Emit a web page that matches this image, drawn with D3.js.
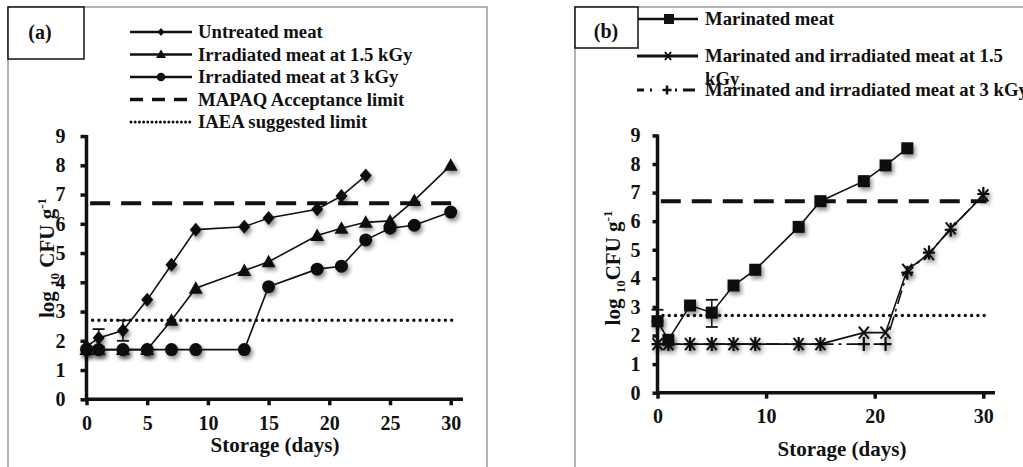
<!DOCTYPE html>
<html><head><meta charset="utf-8">
<script src="https://cdn.jsdelivr.net/npm/d3@7"></script>
<style>body{margin:0;background:#fff}svg{display:block}text{font-family:"Liberation Serif","Times New Roman",serif;font-weight:bold;fill:#111}</style>
</head><body><svg id="c" width="1023" height="467"></svg>
<script>
// ---- data (a) ----
const daysA = [0,1,3,5,7,9,13,15,19,21,23,25,27,30];
const untreated = [1.8,2.1,2.35,3.4,4.6,5.8,5.9,6.2,6.5,6.95,7.65,null,null,null];
const irr15 = [1.7,1.7,1.7,1.7,2.7,3.8,4.4,4.7,5.6,5.85,6.05,6.1,6.8,8.0];
const irr3 = [1.7,1.7,1.7,1.7,1.7,1.7,1.7,3.85,4.45,4.55,5.45,5.85,5.95,6.4];
const errA = [{day:1,lo:1.8,hi:2.4},{day:3,lo:2.0,hi:2.7}];
const legendA = ["Untreated meat","Irradiated meat at 1.5 kGy","Irradiated meat at 3 kGy","MAPAQ Acceptance limit","IAEA suggested limit"];
// ---- data (b) ----
const daysB = [0,1,3,5,7,9,13,15,19,21,23,25,27,30];
const marinated = [2.5,1.85,3.05,2.8,3.75,4.3,5.8,6.7,7.4,7.95,8.55,null,null,null];
const marIrr15 = [1.7,1.7,1.7,1.7,1.7,1.7,1.7,1.7,2.1,2.1,4.3,4.85,5.75,6.9];
const marIrr3 = [1.7,1.7,1.7,1.7,1.7,1.7,1.7,1.7,1.7,1.7,4.2,4.9,5.7,6.95];
const errB = [{day:0,lo:2.5,hi:2.9},{day:5,lo:2.3,hi:3.25}];
const legendB = ["Marinated meat","Marinated and irradiated meat at 1.5","Marinated and irradiated meat at 3 kGy"];
// limits
const mapaq = 6.7, iaea = 2.7;
const yTicks = [0,1,2,3,4,5,6,7,8,9];
const xTicksA = [0,5,10,15,20,25,30];
const xTicksB = [0,10,20,30];

const FS = 20, LFS = 18.7;
const svg = d3.select("#c");
const defs = svg.append("defs");
const f = defs.append("filter").attr("id","sh").attr("x","-50%").attr("y","-50%").attr("width","200%").attr("height","200%");
f.append("feDropShadow").attr("dx",2).attr("dy",3).attr("stdDeviation",2).attr("flood-color","#000").attr("flood-opacity",0.45);

function drawMarker(g, kind, x, y, shadow){
  const m = g.append("g").attr("transform",`translate(${x},${y})`);
  if(shadow) m.attr("filter","url(#sh)");
  if(kind==="diamond") m.append("path").attr("d","M0,-7L6,0L0,7L-6,0Z").attr("fill","#111");
  else if(kind==="triangle") m.append("path").attr("d","M0,-7L7,5.5L-7,5.5Z").attr("fill","#111");
  else if(kind==="circle") m.append("circle").attr("r",6.5).attr("fill","#111");
  else if(kind==="square") m.append("rect").attr("x",-6).attr("y",-6).attr("width",12).attr("height",12).attr("fill","#111");
  else if(kind==="x") m.append("path").attr("d","M-5,-6L5,6M-5,6L5,-6").attr("stroke","#111").attr("stroke-width",2);
  else if(kind==="plus") m.append("path").attr("d","M0,-7L0,7M-6,0L6,0").attr("stroke","#111").attr("stroke-width",2.2);
  else if(kind==="legx") m.append("path").attr("d","M-3,-4L3,4M-3,4L3,-4").attr("stroke","#111").attr("stroke-width",2);
  else if(kind==="legplus") m.append("path").attr("d","M0,-4.5L0,4.5M-4.5,0L4.5,0").attr("stroke","#111").attr("stroke-width",2.5);
}

function panel(cfg){
  const g = svg.append("g");
  const x = d3.scaleLinear().domain([0,30]).range([cfg.x0,cfg.x30]);
  const y = d3.scaleLinear().domain([0,8]).range([cfg.y0,cfg.y8]);
  g.append("rect").attr("x",cfg.fx).attr("y",cfg.fy).attr("width",cfg.fw).attr("height",cfg.fh)
    .attr("fill","none").attr("stroke","#999").attr("stroke-width",1.5);
  g.append("rect").attr("x",cfg.bx).attr("y",cfg.fy).attr("width",cfg.bw).attr("height",cfg.bh)
    .attr("fill","#fff").attr("stroke","#111").attr("stroke-width",1.5);
  g.append("text").attr("x",cfg.lx).attr("y",cfg.ly).attr("text-anchor","middle")
    .style("font-size",FS+"px").text(cfg.label);
  const ya = g.append("g").attr("transform",`translate(${cfg.x0},0)`)
    .call(d3.axisLeft(y).tickValues(yTicks).tickSize(cfg.yts).tickPadding(cfg.ypad).tickFormat(d3.format("d")));
  const xa = g.append("g").attr("transform",`translate(0,${cfg.y0})`)
    .call(d3.axisBottom(x).tickValues(cfg.xt).tickSize(6).tickPadding(cfg.xpad).tickFormat(d3.format("d")));
  [ya,xa].forEach(a=>{
    a.select(".domain").remove();
    a.selectAll(".tick line").attr("stroke","#111").attr("stroke-width",3.5);
    a.selectAll(".tick text").style("font-size",FS+"px").style("font-family","Liberation Serif").style("font-weight","bold").attr("fill","#111");
  });
  g.append("line").attr("x1",cfg.x0).attr("x2",cfg.x0).attr("y1",y(9)-1).attr("y2",cfg.y0+1.5).attr("stroke","#111").attr("stroke-width",3.5);
  g.append("line").attr("x1",cfg.x0-1.5).attr("x2",cfg.xEnd).attr("y1",cfg.y0).attr("y2",cfg.y0).attr("stroke","#111").attr("stroke-width",3.5);
  g.append("text").attr("x",cfg.xTitleX).attr("y",cfg.xTitleY).attr("text-anchor","middle")
    .style("font-size","21px").text("Storage (days)");
  const yt = g.append("text").attr("transform",`translate(${cfg.yTitleX},${cfg.yTitleY}) rotate(-90)`).attr("text-anchor","middle").style("font-size","21px");
  yt.append("tspan").text("log ");
  yt.append("tspan").attr("dy",5).style("font-size","13px").text("10");
  yt.append("tspan").attr("dy",-5).text(cfg.sep+"CFU g");
  yt.append("tspan").attr("dy",-8).style("font-size","13px").text("-1");
  g.append("line").attr("x1",x(0.3)).attr("x2",x(30.3)).attr("y1",y(mapaq)).attr("y2",y(mapaq))
    .attr("stroke","#111").attr("stroke-width",4).attr("stroke-dasharray","20,11");
  g.append("line").attr("x1",x(0.5)).attr("x2",x(30.3)).attr("y1",y(iaea)).attr("y2",y(iaea))
    .attr("stroke","#111").attr("stroke-width",3.5).attr("stroke-linecap","round").attr("stroke-dasharray","0,6.3");
  return {g,x,y};
}

function series(p, days, vals, kind, dash){
  const pts = days.map((d,i)=>({d,v:vals[i]})).filter(o=>o.v!=null);
  const line = d3.line().x(o=>p.x(o.d)).y(o=>p.y(o.v));
  p.g.append("path").attr("d",line(pts)).attr("fill","none").attr("stroke","#111").attr("stroke-width",1.6)
    .attr("stroke-dasharray",dash||null);
  pts.forEach(o=>drawMarker(p.g,kind,p.x(o.d),p.y(o.v),true));
}
function errs(p, list){
  list.forEach(e=>{
    const xx=p.x(e.day);
    p.g.append("line").attr("x1",xx).attr("x2",xx).attr("y1",p.y(e.lo)).attr("y2",p.y(e.hi)).attr("stroke","#111").attr("stroke-width",1.5);
    [e.lo,e.hi].forEach(v=>p.g.append("line").attr("x1",xx-6).attr("x2",xx+6).attr("y1",p.y(v)).attr("y2",p.y(v)).attr("stroke","#111").attr("stroke-width",1.8));
  });
}

// ---------- panel (a) ----------
const pa = panel({label:"(a)",fx:8,fy:7,fw:479,fh:470,bx:8,bw:76,bh:52,lx:40,ly:39,
  x0:86.5,x30:450.7,y0:399.3,y8:165.3,xEnd:463,xt:xTicksA,yts:6,ypad:15,xpad:11,
  xTitleX:275,xTitleY:452,yTitleX:54,yTitleY:258,sep:" "});
errs(pa, errA);
series(pa, daysA, irr3, "circle");
series(pa, daysA, irr15, "triangle");
series(pa, daysA, untreated, "diamond");
const lgA = pa.g.append("g");
const kindsA = ["diamond","triangle","circle","dash","dot"];
legendA.forEach((t,i)=>{
  const yy = 32 + i*22.5;
  if(kindsA[i]==="dash") lgA.append("line").attr("x1",130).attr("x2",191).attr("y1",yy).attr("y2",yy).attr("stroke","#111").attr("stroke-width",3.5).attr("stroke-dasharray","13,9");
  else if(kindsA[i]==="dot") lgA.append("line").attr("x1",131).attr("x2",191).attr("y1",yy).attr("y2",yy).attr("stroke","#111").attr("stroke-width",3).attr("stroke-linecap","round").attr("stroke-dasharray","0,4.2");
  else {
    lgA.append("line").attr("x1",130).attr("x2",192).attr("y1",yy).attr("y2",yy).attr("stroke","#111").attr("stroke-width",2.5);
    const m = lgA.append("g").attr("transform",`translate(161,${yy})`);
    if(kindsA[i]==="diamond") m.append("path").attr("d","M0,-4L3.5,0L0,4L-3.5,0Z").attr("fill","#111");
    if(kindsA[i]==="triangle") m.append("path").attr("d","M0,-5L5,3.5L-5,3.5Z").attr("fill","#111");
    if(kindsA[i]==="circle") m.append("circle").attr("r",4.3).attr("fill","#111");
  }
  lgA.append("text").attr("x",198).attr("y",yy+6.3).style("font-size",LFS+"px").text(t);
});

// ---------- panel (b) ----------
const pb = panel({label:"(b)",fx:575,fy:7,fw:470,fh:470,bx:575,bw:63,bh:41,lx:606,ly:38,
  x0:657.5,x30:983.3,y0:392.7,y8:164,xEnd:995,xt:xTicksB,yts:5,ypad:12,xpad:10,
  xTitleX:842,xTitleY:456,yTitleX:620,yTitleY:268,sep:""});
errs(pb, errB);
series(pb, daysB, marIrr3, "plus", "14,5,3,5");
series(pb, daysB, marIrr15, "x");
series(pb, daysB, marinated, "square");
const lgB = pb.g.append("g");
const ysB = [19,56,90];
lgB.append("line").attr("x1",638).attr("x2",698).attr("y1",ysB[0]).attr("y2",ysB[0]).attr("stroke","#111").attr("stroke-width",2.5);
lgB.append("rect").attr("x",664).attr("y",ysB[0]-5).attr("width",10).attr("height",10).attr("fill","#111");
lgB.append("line").attr("x1",637).attr("x2",698).attr("y1",ysB[1]).attr("y2",ysB[1]).attr("stroke","#111").attr("stroke-width",3);
drawMarker(lgB,"legx",668,ysB[1],false);
lgB.append("line").attr("x1",637).attr("x2",660).attr("y1",ysB[2]).attr("y2",ysB[2]).attr("stroke","#111").attr("stroke-width",3).attr("stroke-dasharray","7,6,2,100");
lgB.append("line").attr("x1",675).attr("x2",698).attr("y1",ysB[2]).attr("y2",ysB[2]).attr("stroke","#111").attr("stroke-width",3).attr("stroke-dasharray","2,6,10,0");
drawMarker(lgB,"legplus",667,ysB[2],false);
lgB.append("text").attr("x",705).attr("y",ysB[0]+6.3).style("font-size",LFS+"px").text(legendB[0]);
lgB.append("text").attr("x",705).attr("y",ysB[1]+6.3).style("font-size",LFS+"px").text(legendB[1]);
lgB.append("text").attr("x",705).attr("y",ysB[1]+29).style("font-size",LFS+"px").text("kGy");
lgB.append("text").attr("x",705).attr("y",ysB[2]+6.3).style("font-size",LFS+"px").text(legendB[2]);
</script></body></html>
